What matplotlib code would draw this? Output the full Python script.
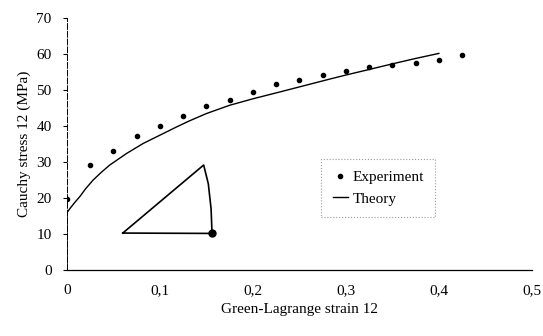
import numpy as np
from matplotlib import pyplot as plt

# Experimental data (strain, stress)
exp_strain = [0, 0.025, 0.05, 0.075, 0.1, 0.125, 0.15, 0.175, 0.2, 0.225,
              0.25, 0.275, 0.3, 0.325, 0.35, 0.375, 0.4, 0.425]
exp_stress = [19.9, 29.2, 33.1, 37.3, 40, 42.9, 45.5, 47.4, 49.5, 51.6,
              52.9, 54.2, 55.3, 56.4, 57, 57.6, 58.3, 59.8]

# Theory curve
theory_strain = [0, 0, 0.004, 0.009, 0.014, 0.02, 0.028, 0.037, 0.046, 0.064,
                 0.082, 0.1, 0.118, 0.132, 0.15, 0.175, 0.2, 0.229, 0.25,
                 0.283, 0.3, 0.326, 0.35, 0.375, 0.4]
theory_stress = [0, 16, 17.4, 19.0, 20.5, 22.6, 25, 27.2, 29.2, 32.4,
                 35.2, 37.5, 39.8, 41.5, 43.5, 45.8, 47.6, 49.5, 50.9,
                 53.1, 54.2, 55.8, 57.3, 58.8, 60.2]

# Inset triangle sketch
tri_x = [0.06, 0.147, 0.152, 0.155, 0.156, 0.06]
tri_y = [10.3, 29.2, 24, 17, 10.2, 10.3]

x_ticks = [0, 0.1, 0.2, 0.3, 0.4, 0.5]
x_labels = ["0", "0,1", "0,2", "0,3", "0,4", "0,5"]
y_ticks = [0, 10, 20, 30, 40, 50, 60, 70]


def main():
    plt.rcParams["font.family"] = ["Liberation Serif", "DejaVu Serif"]
    fig = plt.figure(figsize=(5.43, 3.36), dpi=100)
    ax = fig.add_axes([0.1234, 0.196, 0.856, 0.75])

    ax.plot(theory_strain, theory_stress, color="black", lw=1.0, label="Theory")
    ax.plot(exp_strain, exp_stress, ls="none", marker="o", ms=3,
            color="black", label="Experiment")
    ax.plot(tri_x, tri_y, color="black", lw=1.2)
    ax.plot([0.156], [10.2], marker="o", ms=5, color="black")

    ax.set_xlim(0, 0.5)
    ax.set_ylim(0, 70)
    ax.set_xticks(x_ticks)
    ax.set_xticklabels(x_labels)
    ax.set_yticks(y_ticks)
    ax.tick_params(axis="x", length=0, pad=10, labelsize=11)
    ax.tick_params(axis="y", length=3, width=0.8, direction="out", labelsize=11, pad=8)

    for s in ["top", "right"]:
        ax.spines[s].set_visible(False)
    ax.spines["left"].set_linestyle((0, (6, 2)))
    ax.spines["left"].set_linewidth(0.7)
    ax.spines["bottom"].set_linewidth(0.9)

    ax.set_xlabel("Green-Lagrange strain 12", fontsize=11)
    ax.set_ylabel("Cauchy stress 12 (MPa)", fontsize=11)

    handles, labels = ax.get_legend_handles_labels()
    leg = ax.legend(handles[::-1], labels[::-1], loc="upper left",
                    bbox_to_anchor=(0.547, 0.44), fontsize=11, frameon=True,
                    fancybox=False, handlelength=1.0, handletextpad=0.3,
                    borderpad=0.75, labelspacing=0.5, borderaxespad=0)
    leg.get_frame().set_edgecolor("gray")
    leg.get_frame().set_linestyle(":")
    leg.get_frame().set_linewidth(0.8)

    fig.savefig("out.png", dpi=100)


if __name__ == "__main__":
    main()
